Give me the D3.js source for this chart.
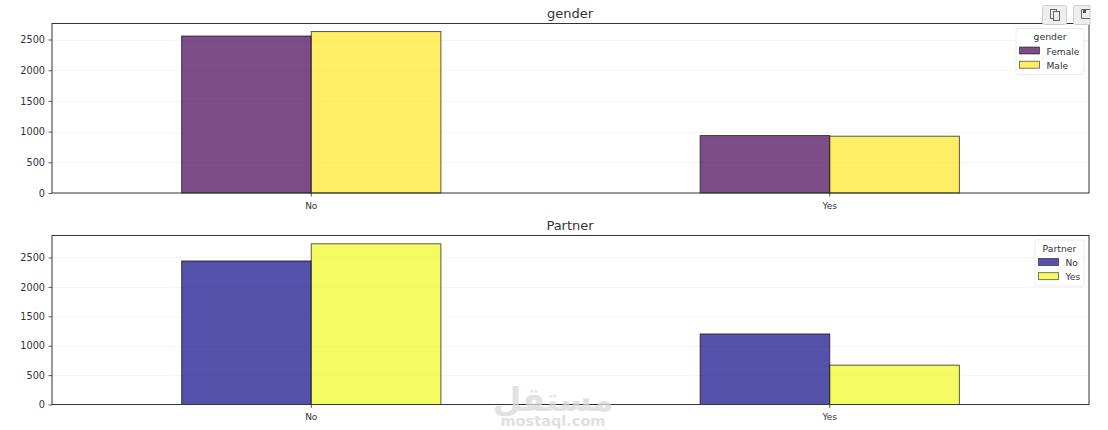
<!DOCTYPE html>
<html>
<head>
<meta charset="utf-8">
<script src="https://cdn.jsdelivr.net/npm/d3@7/dist/d3.min.js"></script>
<style>
html,body{margin:0;padding:0;background:#fff;overflow:hidden}
text{font-family:"DejaVu Sans",sans-serif;fill:#262626}
</style>
</head>
<body>
<svg id="chart" width="1108" height="430"></svg>
<script>
const categories = ["No", "Yes"];
const yTicks = [0, 500, 1000, 1500, 2000, 2500];

const genderTitle = "gender";
const genderGroups = ["Female", "Male"];
const genderFemale = [2557, 936];
const genderMale = [2630, 925];
const genderColors = ["#440154", "#fde725"];

const partnerTitle = "Partner";
const partnerGroups = ["No", "Yes"];
const partnerNo = [2441, 1200];
const partnerYes = [2733, 669];
const partnerColors = ["#0d0887", "#f0f921"];

const svg = d3.select("#chart");
const left = 52, right = 1089;

function panel(cfg) {
  const g = svg.append("g");
  const y = d3.scaleLinear().domain([0, cfg.yMax]).range([cfg.bottom, cfg.top]);
  const x = d3.scaleBand().domain(categories).range([left, right])
    .paddingInner(0.5).paddingOuter(0.25);
  const sub = d3.scaleBand().domain(cfg.groups).range([0, x.bandwidth()]);

  // grid
  g.append("g").selectAll("line").data(yTicks.slice(1)).join("line")
    .attr("x1", left).attr("x2", right)
    .attr("y1", d => Math.round(y(d)) + 0.5).attr("y2", d => Math.round(y(d)) + 0.5)
    .attr("stroke", "#b0b0b0").attr("stroke-opacity", 0.16).attr("stroke-width", 0.8);

  // bars
  cfg.series.forEach((vals, i) => {
    g.append("g").selectAll("rect").data(vals).join("rect")
      .attr("x", (d, j) => x(categories[j]) + sub(cfg.groups[i]))
      .attr("y", d => y(d))
      .attr("width", sub.bandwidth())
      .attr("height", d => y(0) - y(d))
      .attr("fill", cfg.colors[i]).attr("fill-opacity", 0.7)
      .attr("stroke", "#000").attr("stroke-opacity", 0.65).attr("stroke-width", 1);
  });

  // frame
  g.append("rect").attr("x", left).attr("y", cfg.top)
    .attr("width", right - left).attr("height", cfg.bottom - cfg.top)
    .attr("fill", "none").attr("stroke", "#333").attr("stroke-width", 1);

  // axes
  const ay = g.append("g").attr("transform", `translate(${left},0)`)
    .call(d3.axisLeft(y).tickValues(yTicks).tickFormat(d3.format("d")).tickSize(3.5).tickPadding(3.5));
  ay.select(".domain").remove();
  ay.selectAll("line").attr("stroke", "#333").attr("stroke-width", 0.8);
  ay.selectAll("text").attr("font-size", 9.7).style("font-family", '"DejaVu Sans",sans-serif').style("fill", "#333");

  const ax = g.append("g").attr("transform", `translate(0,${cfg.bottom})`)
    .call(d3.axisBottom(x).tickSize(3.5).tickPadding(3.5));
  ax.select(".domain").remove();
  ax.selectAll("line").attr("stroke", "#333").attr("stroke-width", 0.8);
  ax.selectAll("text").attr("font-size", 9).attr("dy", "0.95em").style("font-family", '"DejaVu Sans",sans-serif').style("fill", "#333");

  // title
  g.append("text").attr("x", (left + right) / 2 - 0.5).attr("y", cfg.top - 5.5)
    .attr("text-anchor", "middle").attr("font-size", 13).style("fill", "#333").text(cfg.title);

  // legend
  const lx = cfg.legend.x, ly = cfg.legend.y, lw = cfg.legend.w;
  g.append("rect").attr("x", lx).attr("y", ly).attr("width", lw).attr("height", 46)
    .attr("rx", 2).attr("fill", "#fff").attr("fill-opacity", 0.9)
    .attr("stroke", "#e6e6e6").attr("stroke-width", 0.8);
  g.append("text").attr("x", lx + lw / 2).attr("y", ly + 11.5)
    .attr("text-anchor", "middle").attr("font-size", 9.3).style("fill", "#333").text(cfg.title);
  cfg.groups.forEach((name, i) => {
    const ry = ly + 18.5 + i * 14.2;
    g.append("rect").attr("x", lx + 3.5).attr("y", ry).attr("width", 20).attr("height", 7)
      .attr("fill", cfg.colors[i]).attr("fill-opacity", 0.7)
      .attr("stroke", "#000").attr("stroke-opacity", 0.65).attr("stroke-width", 0.8);
    g.append("text").attr("x", lx + 30.5).attr("y", ry + 7.5)
      .attr("font-size", 9.1).style("fill", "#333").text(name);
  });
}

panel({ title: genderTitle, groups: genderGroups, series: [genderFemale, genderMale],
  colors: genderColors, top: 23.5, bottom: 193, yMax: 2761,
  legend: { x: 1016, y: 28.5, w: 68 } });
panel({ title: partnerTitle, groups: partnerGroups, series: [partnerNo, partnerYes],
  colors: partnerColors, top: 235.5, bottom: 404.5, yMax: 2874,
  legend: { x: 1035, y: 240, w: 49 } });

// notebook toolbar buttons
const tb = svg.append("g");
tb.append("rect").attr("x", 1042.5).attr("y", 5.5).attr("width", 24).attr("height", 19)
  .attr("rx", 2).attr("fill", "#eeeeee").attr("stroke", "#cfcfcf");
tb.append("rect").attr("x", 1050.5).attr("y", 9.5).attr("width", 6).attr("height", 9)
  .attr("fill", "none").attr("stroke", "#666");
tb.append("rect").attr("x", 1053.5).attr("y", 11.5).attr("width", 6).attr("height", 9)
  .attr("fill", "#eee").attr("stroke", "#666");
tb.append("path").attr("d", "M1090 5.5H1075.5a2 2 0 0 0-2 2V22.5a2 2 0 0 0 2 2H1090Z")
  .attr("fill", "#eeeeee").attr("stroke", "#cfcfcf");
tb.append("path").attr("d", "M1090 9.5H1081.5V18.5H1090").attr("fill", "none").attr("stroke", "#666");
tb.append("rect").attr("x", 1083).attr("y", 10).attr("width", 3).attr("height", 3).attr("fill", "#555");

// watermark
const wm = svg.append("g").attr("text-anchor", "middle");
wm.append("text").attr("x", 553).attr("y", 411)
  .attr("font-size", 33).attr("font-weight", 700)
  .style("font-family", '"DejaVu Sans",sans-serif').style("fill", "#d9d9d9").attr("opacity", 0.75).text("مستقل");
wm.append("text").attr("x", 553).attr("y", 426)
  .attr("font-size", 14.5).attr("font-weight", 700)
  .style("fill", "#d9d9d9").attr("opacity", 0.8).text("mostaql.com");
</script>
</body>
</html>
